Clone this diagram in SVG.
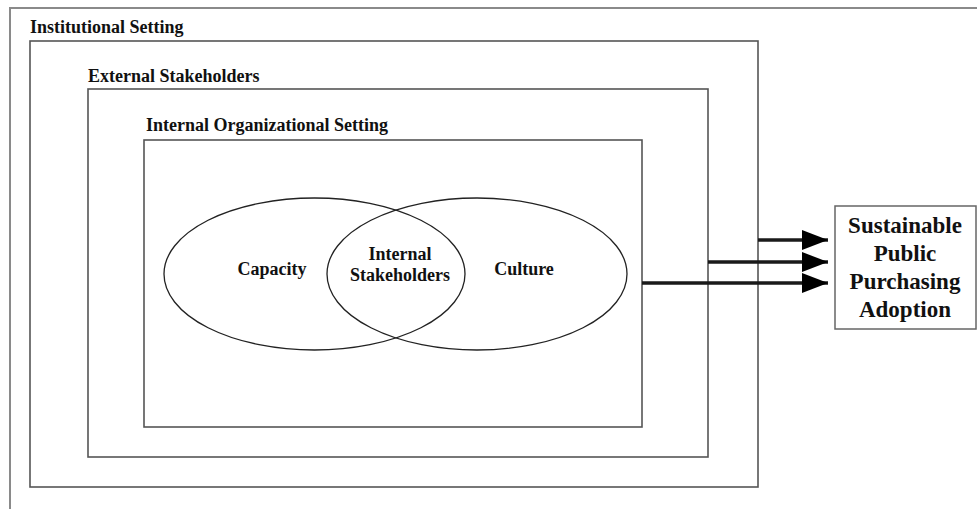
<svg xmlns="http://www.w3.org/2000/svg" width="977" height="509" viewBox="0 0 977 509">
<defs>
<marker id="ah" markerUnits="userSpaceOnUse" markerWidth="28" markerHeight="22" refX="26" refY="10" orient="auto" viewBox="0 0 28 22">
<path d="M0,0 L26,10 L0,20 Z" fill="#000"/>
</marker>
</defs>
<rect width="977" height="509" fill="#fff"/>
<g id="outer-frame">
<path d="M10,509 L10,8 L977,8" fill="none" stroke="#8a8a8a" stroke-width="2"/>
</g>
<g id="institutional-setting">
<rect x="30" y="41" width="728" height="446" fill="none" stroke="#555" stroke-width="1.6"/>
<text x="30" y="33" font-family="'Liberation Serif', serif" font-weight="700" font-size="18" fill="#111">Institutional Setting</text>
</g>
<g id="external-stakeholders">
<rect x="88" y="89" width="620" height="368" fill="none" stroke="#555" stroke-width="1.6"/>
<text x="88" y="82" font-family="'Liberation Serif', serif" font-weight="700" font-size="18" fill="#111">External Stakeholders</text>
</g>
<g id="internal-organizational-setting">
<rect x="144" y="140" width="498" height="287" fill="none" stroke="#555" stroke-width="1.6"/>
<text x="146" y="131" font-family="'Liberation Serif', serif" font-weight="700" font-size="18" fill="#111">Internal Organizational Setting</text>
</g>
<g id="capacity">
<ellipse cx="314.5" cy="274" rx="150.5" ry="76" fill="none" stroke="#222" stroke-width="1.3"/>
<text x="272" y="275" text-anchor="middle" font-family="'Liberation Serif', serif" font-weight="700" font-size="18" fill="#111">Capacity</text>
</g>
<g id="culture">
<ellipse cx="477" cy="274" rx="150" ry="76" fill="none" stroke="#222" stroke-width="1.3"/>
<text x="524" y="275" text-anchor="middle" font-family="'Liberation Serif', serif" font-weight="700" font-size="18" fill="#111">Culture</text>
</g>
<g id="internal-stakeholders">
<text x="400" y="260" text-anchor="middle" font-family="'Liberation Serif', serif" font-weight="700" font-size="18" fill="#111">Internal</text>
<text x="400" y="281" text-anchor="middle" font-family="'Liberation Serif', serif" font-weight="700" font-size="18" fill="#111">Stakeholders</text>
</g>
<g id="outcome">
<rect x="835" y="206" width="141" height="123" fill="#fff" stroke="#666" stroke-width="1.5"/>
<text x="905" y="233" text-anchor="middle" font-family="'Liberation Serif', serif" font-weight="700" font-size="23" fill="#111">Sustainable</text>
<text x="905" y="261" text-anchor="middle" font-family="'Liberation Serif', serif" font-weight="700" font-size="23" fill="#111">Public</text>
<text x="905" y="289" text-anchor="middle" font-family="'Liberation Serif', serif" font-weight="700" font-size="23" fill="#111">Purchasing</text>
<text x="905" y="317" text-anchor="middle" font-family="'Liberation Serif', serif" font-weight="700" font-size="23" fill="#111">Adoption</text>
</g>
<g id="connectors" stroke="#1a1a1a" stroke-width="3.5" fill="none">
<line x1="758" y1="240" x2="828" y2="240" marker-end="url(#ah)"/>
<line x1="708" y1="262" x2="828" y2="262" marker-end="url(#ah)"/>
<line x1="642" y1="283" x2="828" y2="283" marker-end="url(#ah)"/>
</g>
</svg>
